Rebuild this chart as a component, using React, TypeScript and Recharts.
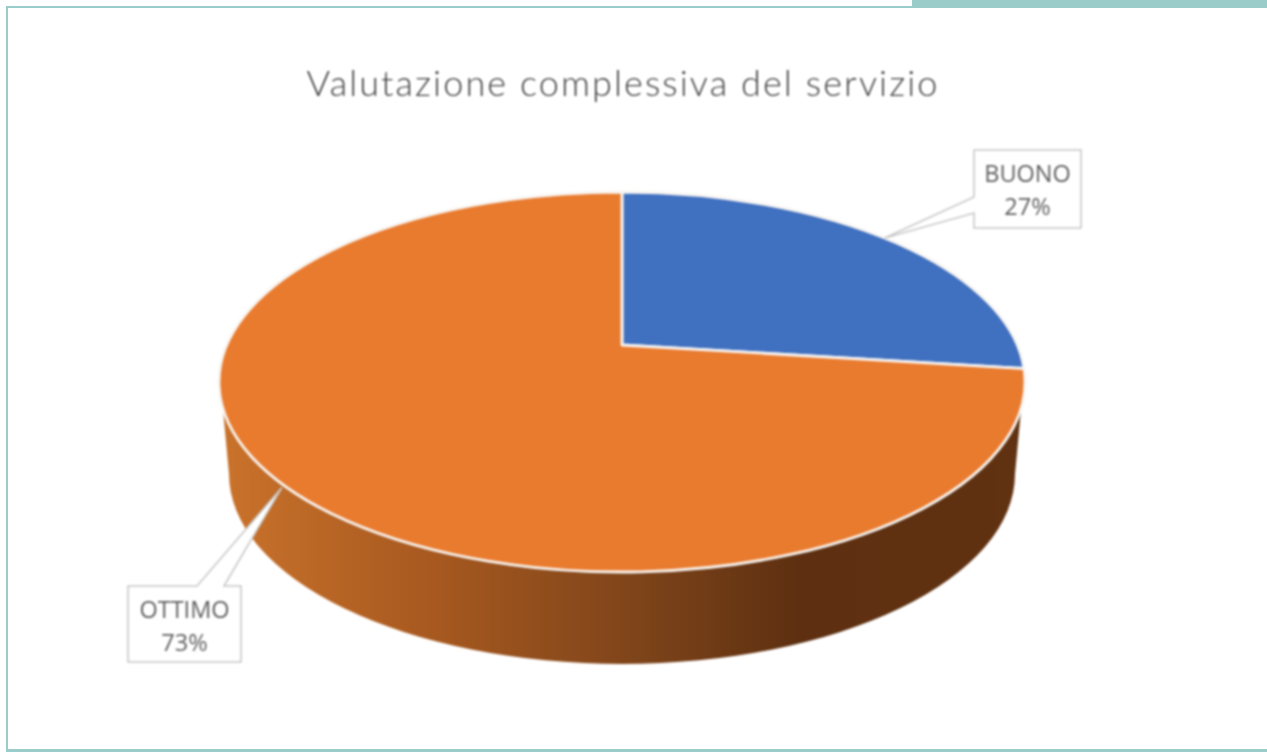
import React from "react";
import { PieChart, Pie, Cell } from "recharts";

const categories = ["BUONO", "OTTIMO"];
const values = [27, 73];
const colors = ["#4070c0", "#e97b2f"];
const titleText = "Valutazione complessiva del servizio";

const chartData = categories.map((name, i) => ({ name, value: values[i] }));

const W = 1267;
const H = 752;
const TILT = 190 / 403;
const PERSPECTIVE = 37 / 190;
const FRAME = "#9accc9";

// Projects a point on the pie's rim (angle in degrees) to the tilted, perspective top face.
function project(cx: number, cy: number, r: number, deg: number, radial = 1) {
  const a = (deg * Math.PI) / 180;
  const u = radial * Math.cos(a);
  const v = radial * Math.sin(a);
  const w = 1 + PERSPECTIVE * v;
  const ry = r * TILT;
  return {
    x: cx + (r * Math.sqrt(1 - PERSPECTIVE * PERSPECTIVE) * u) / w,
    y: cy - (ry * v + ry * PERSPECTIVE) / w,
  };
}

function Slice(props: any) {
  const { cx, cy, outerRadius: r, startAngle, endAngle, fill } = props;
  const ry = r * TILT;
  const apex = project(cx, cy, r, 0, 0);
  const s = project(cx, cy, r, startAngle);
  const e = project(cx, cy, r, endAngle);
  const large = Math.abs(startAngle - endAngle) > 180 ? 1 : 0;
  const d = `M${apex.x},${apex.y} L${s.x},${s.y} A${r},${ry} 0 ${large} 1 ${e.x},${e.y} Z`;
  return <path d={d} fill={fill} stroke="#f8f5f2" strokeWidth={2.8} strokeLinejoin="round" />;
}

const BOXES: Record<string, { x0: number; x1: number; y0: number; y1: number }> = {
  BUONO: { x0: 974, x1: 1081, y0: 150, y1: 228 },
  OTTIMO: { x0: 128, x1: 241, y0: 586, y1: 662 },
};

function Callout(props: any) {
  const { cx, cy, outerRadius: r, midAngle, name, percent } = props;
  const p = project(cx, cy, r, midAngle);
  const b = BOXES[name];
  const d =
    name === "BUONO"
      ? `M${b.x0},${b.y0} H${b.x1} V${b.y1} H${b.x0} V213 L${p.x},${p.y} L${b.x0},197 Z`
      : `M${b.x0},${b.y0} H197 L${p.x},${p.y + 4} L224,${b.y0} H${b.x1} V${b.y1} H${b.x0} Z`;
  const mid = (b.x0 + b.x1) / 2;
  const style = { fontFamily: "'Open Sans', sans-serif", fontSize: 23.5, fill: "#5e5e5e" };
  return (
    <g>
      <path d={d} fill="#ffffff" stroke="#c8c8c8" strokeWidth={1.6} />
      <text x={mid} y={b.y0 + 32} textAnchor="middle" style={style}>{name}</text>
      <text x={mid} y={b.y0 + 65} textAnchor="middle" style={style}>{`${Math.round(percent * 100)}%`}</text>
    </g>
  );
}

const bar = (left: number, top: number, width: number, height: number): React.CSSProperties => ({
  position: "absolute",
  left,
  top,
  width,
  height,
  background: FRAME,
});

export default function App() {
  return (
    <div style={{ position: "absolute", left: 0, top: 0, width: W, height: H, background: "#fff", overflow: "hidden" }}>
      <div style={{ position: "absolute", left: 0, top: 0, width: W, height: H, filter: "blur(0.9px)" }}>
        <PieChart width={W} height={H} margin={{ top: 0, right: 0, bottom: 0, left: 0 }}>
          <defs>
            <linearGradient id="wall" x1="0" x2="1" y1="0" y2="0">
              <stop offset="0%" stopColor="#c9722b" />
              <stop offset="25%" stopColor="#a95a20" />
              <stop offset="52%" stopColor="#7e441a" />
              <stop offset="72%" stopColor="#5e3011" />
              <stop offset="100%" stopColor="#613211" />
            </linearGradient>
          </defs>
          <text
            x={623}
            y={96}
            textAnchor="middle"
            style={{ fontFamily: "Lato, sans-serif", fontWeight: 300, fontSize: 36, letterSpacing: 2.1, fill: "#3e3e3e" }}
          >
            {titleText}
          </text>
          <path d="M223,410 L229,474 A393,190 0 0 0 1015,474 L1021,410 Z" fill="url(#wall)" />
          <Pie
            data={chartData}
            dataKey="value"
            nameKey="name"
            cx={622}
            cy={382}
            outerRadius={403}
            startAngle={90}
            endAngle={-270}
            paddingAngle={0}
            isAnimationActive={false}
            shape={Slice}
            label={Callout}
            labelLine={false}
          >
            {chartData.map((d) => (
              <Cell key={d.name} fill={colors[categories.indexOf(d.name)]} />
            ))}
          </Pie>
        </PieChart>
      </div>
      <div style={bar(6, 6, 906, 2)} />
      <div style={bar(912, 0, 355, 8)} />
      <div style={bar(6, 6, 2, 746)} />
      <div style={bar(6, 749, 1261, 3)} />
    </div>
  );
}
